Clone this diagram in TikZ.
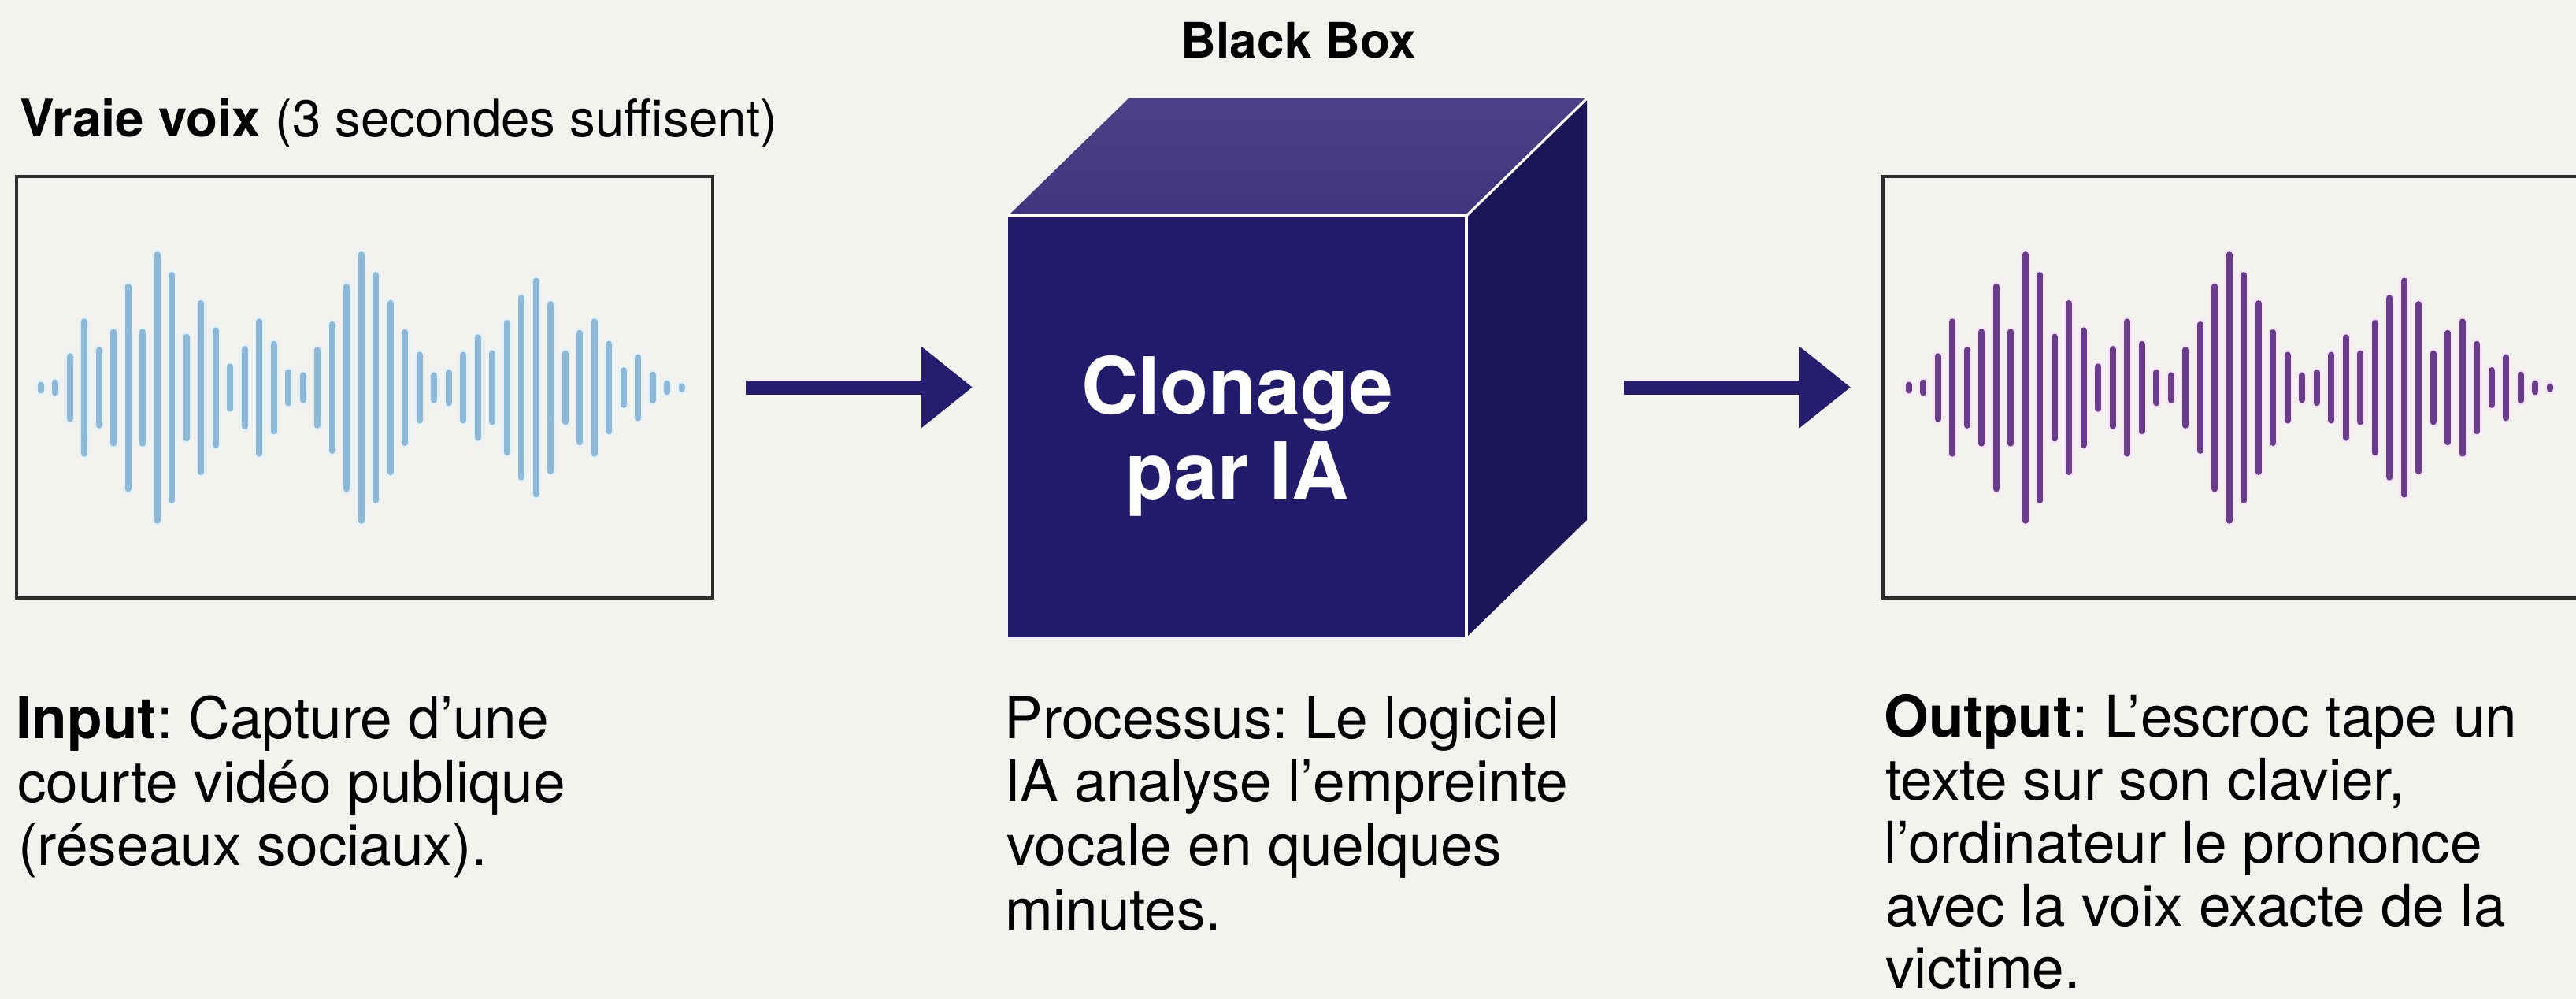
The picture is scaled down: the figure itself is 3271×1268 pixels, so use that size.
\documentclass[tikz,border=0pt]{standalone}
\usepackage{fontspec}
\setmainfont{TeX Gyre Heros}
\usetikzlibrary{arrows.meta,calc}
\frenchspacing
\definecolor{bgc}{HTML}{F3F2EE}
\definecolor{navy}{HTML}{261D70}
\definecolor{cubefront}{HTML}{231C6C}
\definecolor{cubetopA}{HTML}{4A4187}
\definecolor{cubetopB}{HTML}{3F367D}
\definecolor{cuberight}{HTML}{1C1658}
\definecolor{wblue}{HTML}{8DB8D8}
\definecolor{wblueglow}{HTML}{E4F2FA}
\definecolor{wpurple}{HTML}{6A3C8C}
\definecolor{wpurpleglow}{HTML}{F6E6F8}
\definecolor{framec}{HTML}{2E2E2E}
\def\wavelist{7.4,10.4,43.7,87.7,51.8,74.7,132.4,74.7,172.8,146.9,68.4,111,76.6,30.7,52.9,87.7,59.2,23.3,19.6,51.8,84,132.4,172.8,146.9,111,74,45.5,19.6,23.3,45.5,67.7,47.4,86.2,117.7,139.5,110,47.4,73.3,87.7,59.2,25.9,42.5,20.4,9.3,5.6}
\newcommand\drawwaveform[3]{%
  \foreach \h [count=\i from 0] in \wavelist {
    \pgfmathsetmacro\hh{max(\h-4,0.8)}
    \draw[line width=6.5pt,line cap=round,#3] (#1+18.5*\i,492-\hh) -- (#1+18.5*\i,492+\hh);
  }
  \foreach \h [count=\i from 0] in \wavelist {
    \pgfmathsetmacro\hh{max(\h-4,0.8)}
    \draw[line width=4pt,line cap=round,#2] (#1+18.5*\i,492-\hh) -- (#1+18.5*\i,492+\hh);
  }
}
\begin{document}
\begin{tikzpicture}[x=0.5pt,y=-0.5pt,
  framebox/.style={draw=framec,line width=2pt,minimum width=442pt,minimum height=267.5pt,inner sep=0pt,outer sep=0pt},
  flowarrow/.style={draw=navy,line width=9pt,-{Triangle[length=32.5pt,width=49.5pt]}},
  body/.style={anchor=base west,inner sep=0pt,font=\fontsize{36.5}{40}\selectfont,text=black},
  cubetext/.style={anchor=base,inner sep=0pt,text=white,font=\fontsize{50}{54}\selectfont\bfseries}]
\useasboundingbox (0,0) rectangle (3271,1268);
\clip (0,0) rectangle (3271,1268);
\fill[bgc] (0,0) rectangle (3271,1268);

% titles
\node[anchor=base,inner sep=0pt,font=\fontsize{31}{36}\selectfont\bfseries] (bbtitle) at (1649,74) {Black Box};
\node[anchor=base west,inner sep=0pt,font=\fontsize{32.7}{38}\selectfont] (vtitle) at (25,173) {\textbf{Vraie voix} (3 secondes suffisent)};

% boxes
\node[framebox] (lbox) at (463,491.5) {};
\node[framebox,minimum width=454.5pt] (rbox) at (2845.5,491.5) {};

% waveforms
\drawwaveform{51.6}{wblue}{wblueglow}
\drawwaveform{2423.8}{wpurple}{wpurpleglow}

% cube
\node[fill=cubefront,minimum width=291pt,minimum height=267.5pt,inner sep=0pt,outer sep=0pt] (front) at (1571,541.5) {};
\coordinate (tNW) at ($(front.north west)+(153,-149)$);
\coordinate (rfNE) at ($(front.north east)+(153,-149)$);
\coordinate (rfSE) at ($(front.south east)+(153,-149)$);
\shade[top color=cubetopA,bottom color=cubetopB] (front.north west) -- (tNW) -- (rfNE) -- (front.north east) -- cycle;
\fill[cuberight] (front.north east) -- (rfNE) -- (rfSE) -- (front.south east) -- cycle;
\draw[white,line width=1.6pt,line join=round] (front.north west) -- (front.north east) -- (front.south east);
\draw[white,line width=1.6pt] (front.north east) -- (rfNE);
\node[cubetext] (cl1) at (1571,525) {Clonage};
\node[cubetext] (cl2) at (1571,633) {par IA};

% arrows
\draw[flowarrow,shorten <=21pt,shorten >=22.5pt] (lbox.east) -- (lbox.east -| front.west);
\draw[flowarrow,shorten <=23.5pt,shorten >=20.5pt] (rfNE |- rbox.west) -- (rbox.west);

% descriptions
\node[body] (in1) at (20,937) {\textbf{Input}: Capture d’une};
\node[body] (in2) at (22,1018) {courte vidéo publique};
\node[body] (in3) at (23,1098) {(réseaux sociaux).};

\node[body] (pr1) at (1275,937) {Processus: Le logiciel};
\node[body] (pr2) at (1275,1017) {IA analyse l’empreinte};
\node[body] (pr3) at (1278,1098) {vocale en quelques};
\node[body] (pr4) at (1276,1180) {minutes.};

\node[body] (out1) at (2392,935) {\textbf{Output}: L’escroc tape un};
\node[body] (out2) at (2394,1015) {texte sur son clavier,};
\node[body] (out3) at (2392,1095) {l’ordinateur le prononce};
\node[body] (out4) at (2394,1175) {avec la voix exacte de la};
\node[body] (out5) at (2394,1254) {victime.};
\end{tikzpicture}
\end{document}
